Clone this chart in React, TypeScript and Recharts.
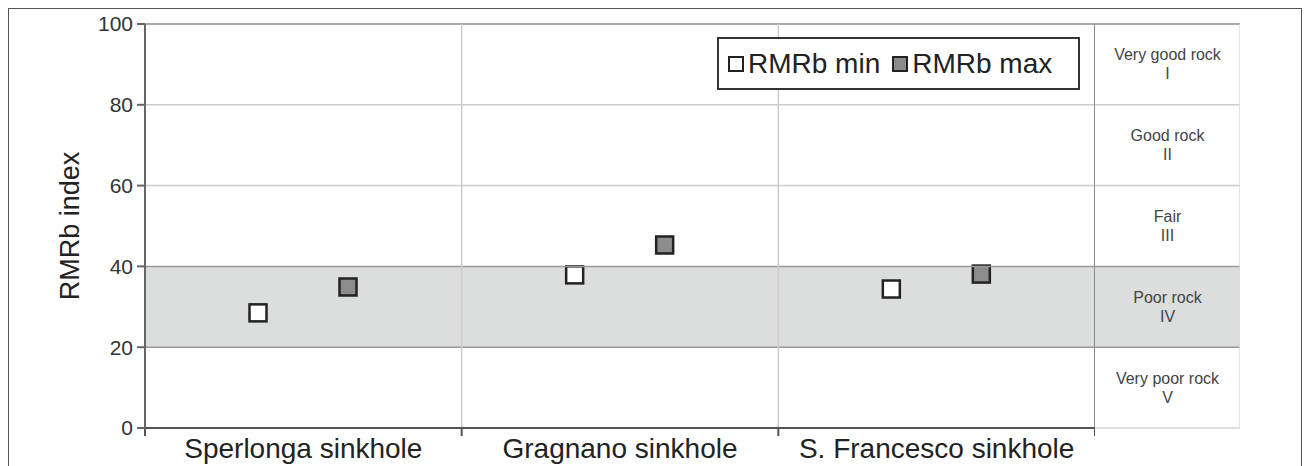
import React from "react";
import {
  ComposedChart,
  Bar,
  XAxis,
  YAxis,
  ReferenceLine,
  ReferenceArea,
  Legend,
} from "recharts";

const SITES = ["Sperlonga sinkhole", "Gragnano sinkhole", "S. Francesco sinkhole"];
const RMR_MIN = [28.5, 37.9, 34.4];
const RMR_MAX = [34.9, 45.3, 38.1];
const SERIES_NAMES = ["RMRb min", "RMRb max"];

const Y_TICKS = [0, 20, 40, 60, 80, 100];

// rock mass classes shown in the right-hand column
const CLASS_LOW = [80, 60, 40, 20, 0];
const CLASS_HIGH = [100, 80, 60, 40, 20];
const CLASS_NAMES = ["Very good rock", "Good rock", "Fair", "Poor rock", "Very poor rock"];
const CLASS_ROMAN = ["I", "II", "III", "IV", "V"];

const FONT = "'Liberation Sans', Arial, sans-serif";
const BAND = "#dcdddd";

const data = SITES.map((site, i) => ({
  site,
  min: RMR_MIN[i],
  max: RMR_MAX[i],
}));

const tableData = [{ column: "RMR class" }];

const SquareMarker = (props: any) => {
  const { x, y, width, fill } = props;
  if (x == null || y == null) return null;
  const cx = x + width / 2;
  return (
    <rect
      x={cx - 8.5}
      y={y - 8.5}
      width={17}
      height={17}
      fill={fill}
      stroke="#222"
      strokeWidth={2.5}
    />
  );
};

const renderLegend = (props: any) => {
  const payload = [...(props.payload || [])].sort(
    (a: any, b: any) => SERIES_NAMES.indexOf(a.value) - SERIES_NAMES.indexOf(b.value)
  );
  return (
    <div
      style={{
        boxSizing: "border-box",
        width: 363,
        height: 53,
        border: "2px solid #333",
        background: "#fff",
        display: "flex",
        alignItems: "center",
        paddingLeft: 9,
        fontFamily: FONT,
        fontSize: 28,
        color: "#222",
      }}
    >
      {payload.map((entry: any) => (
        <div key={entry.value} style={{ display: "flex", alignItems: "center", marginRight: 12 }}>
          <span
            style={{
              display: "inline-block",
              boxSizing: "border-box",
              width: 16,
              height: 16,
              border: "2px solid #222",
              background: entry.color,
              marginRight: 4,
            }}
          />
          <span>{entry.value}</span>
        </div>
      ))}
    </div>
  );
};

const YTitle = (props: any) => {
  const { x, y, height } = props.viewBox;
  const cx = x + 51;
  const cy = y + height / 2;
  return (
    <text
      x={cx}
      y={cy}
      transform={`rotate(-90, ${cx}, ${cy})`}
      textAnchor="middle"
      dominantBaseline="central"
      fontFamily={FONT}
      fontSize={27}
      fill="#222"
    >
      RMRb index
    </text>
  );
};

const classLabel = (i: number) => (props: any) => {
  const { x, y, width, height } = props.viewBox;
  const cx = x + width / 2;
  const cy = y + height / 2;
  return (
    <text textAnchor="middle" fontFamily={FONT} fontSize={16} fill="#444">
      <tspan x={cx} y={cy - 4}>
        {CLASS_NAMES[i]}
      </tspan>
      <tspan x={cx} y={cy + 15}>
        {CLASS_ROMAN[i]}
      </tspan>
    </text>
  );
};

const gridColor = (v: number) => (v <= 40 ? "#9a9a9a" : v === 100 ? "#a8a8a8" : "#cfc9c9");

export default function App() {
  return (
    <div
      style={{
        position: "relative",
        width: 1292,
        height: 457,
        borderTop: "1px solid #555",
        borderLeft: "1px solid #555",
        borderRight: "1px solid #555",
        background: "#fff",
        fontFamily: FONT,
      }}
    >
      <div style={{ position: "absolute", left: 0, top: 0 }}>
        <ComposedChart
          width={1086}
          height={457}
          data={data}
          margin={{ top: 15, right: 0, bottom: 38, left: 10 }}
          barCategoryGap={68}
          barGap={0}
        >
          <ReferenceArea y1={20} y2={40} fill={BAND} fillOpacity={1} stroke="none" />
          {Y_TICKS.filter((v) => v > 0).map((v) => (
            <ReferenceLine
              key={`h-${v}`}
              y={v}
              stroke={gridColor(v)}
              strokeWidth={v === 100 ? 2 : 1.5}
            />
          ))}
          {/* category dividers sit on the band edges */}
          <ReferenceLine x={SITES[1]} position="start" stroke="#cfcaca" strokeWidth={1.5} />
          <ReferenceLine x={SITES[2]} position="start" stroke="#cfcaca" strokeWidth={1.5} />
          <ReferenceLine x={SITES[2]} position="end" stroke="#8a8a8a" strokeWidth={2} />
          {SITES.map((s) => (
            <ReferenceLine
              key={`tick-${s}`}
              segment={[
                { x: s, y: 0 },
                { x: s, y: -2 },
              ]}
              position="start"
              ifOverflow="visible"
              stroke="#555"
              strokeWidth={2}
            />
          ))}
          <ReferenceLine
            segment={[
              { x: SITES[2], y: 0 },
              { x: SITES[2], y: -2 },
            ]}
            position="end"
            ifOverflow="visible"
            stroke="#555"
            strokeWidth={2}
          />
          <XAxis
            dataKey="site"
            interval={0}
            height={0.001}
            axisLine={{ stroke: "#555", strokeWidth: 2 }}
            tickLine={false}
            tickSize={0}
            tickMargin={10}
            tick={{ fontSize: 28, fill: "#222", fontFamily: FONT }}
          />
          <YAxis
            width={126}
            domain={[0, 100]}
            ticks={Y_TICKS}
            tickSize={8}
            tickMargin={4}
            axisLine={{ stroke: "#666", strokeWidth: 2 }}
            tickLine={{ stroke: "#666", strokeWidth: 2 }}
            tick={{ fontSize: 21, fill: "#333", fontFamily: FONT }}
            label={{ content: YTitle }}
          />
          <Legend
            layout="horizontal"
            verticalAlign="middle"
            align="center"
            content={renderLegend}
            wrapperStyle={{ left: 708, top: 28, width: 363, height: 53 }}
          />
          <Bar
            dataKey="min"
            name={SERIES_NAMES[0]}
            fill="#ffffff"
            shape={<SquareMarker />}
            isAnimationActive={false}
          />
          <Bar
            dataKey="max"
            name={SERIES_NAMES[1]}
            fill="#8c8c8c"
            shape={<SquareMarker />}
            isAnimationActive={false}
          />
        </ComposedChart>
      </div>
      <div style={{ position: "absolute", left: 1086, top: 0 }}>
        <ComposedChart
          width={145}
          height={457}
          data={tableData}
          margin={{ top: 15, right: 0, bottom: 38, left: 0 }}
        >
          <XAxis dataKey="column" scale="band" hide />
          <YAxis type="number" domain={[0, 100]} allowDataOverflow hide />
          <ReferenceArea y1={20} y2={40} fill={BAND} fillOpacity={1} stroke="none" />
          {CLASS_NAMES.map((name, i) => (
            <ReferenceArea
              key={name}
              y1={CLASS_LOW[i]}
              y2={CLASS_HIGH[i]}
              fill="none"
              stroke="none"
              label={{ content: classLabel(i) }}
            />
          ))}
          {Y_TICKS.map((v) => (
            <ReferenceLine
              key={`t-${v}`}
              y={v}
              stroke={v === 0 ? "#d6d6d6" : gridColor(v)}
              strokeWidth={v === 100 ? 2 : 1.5}
            />
          ))}
          <ReferenceLine x={tableData[0].column} position="end" stroke="#dadada" strokeWidth={1.5} />
        </ComposedChart>
      </div>
    </div>
  );
}
